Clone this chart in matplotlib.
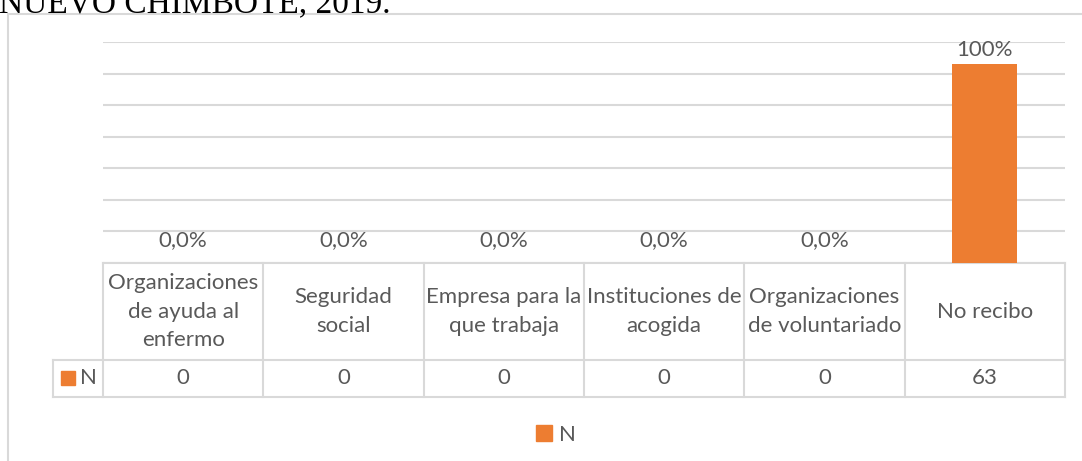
import matplotlib.pyplot as plt
from matplotlib.patches import Rectangle

# datos
categorias = ['Organizaciones\nde ayuda al\nenfermo', 'Seguridad\nsocial',
              'Empresa para la\nque trabaja', 'Instituciones de\nacogida',
              'Organizaciones\nde voluntariado', 'No recibo']
valores_n = [0, 0, 0, 0, 0, 63]
etiquetas = ['0,0%', '0,0%', '0,0%', '0,0%', '0,0%', '100%']

naranja = '#ED7D31'
gris_txt = '#595959'
gris_lin = '#D9D9D9'
fuente = 'Lato'
tam = 16

W, H = 1082, 461
fig = plt.figure(figsize=(W / 100, H / 100), dpi=100)

# marco del grafico
fig.patches.append(Rectangle((8 / W, -0.1), 1.2, 1 - 14 / H + 0.1, transform=fig.transFigure,
                             fill=False, edgecolor=gris_lin, linewidth=1.5))

# titulo cortado arriba (como en la imagen original)
fig.text(-0.001, 1 - 12 / H, 'NUEVO CHIMBOTE, 2019.', family='Liberation Serif',
         fontsize=24, va='baseline', ha='left', color='black')

x0, x1 = 103, 1065
y_top, y_base = 42, 263
ax = fig.add_axes([x0 / W, 1 - y_base / H, (x1 - x0) / W, (y_base - y_top) / H])
pos = list(range(len(categorias)))
ax.bar(pos, valores_n, width=0.405, color=naranja, zorder=3)
ax.set_xlim(-0.5, len(categorias) - 0.5)
ax.set_ylim(0, 70)
ax.set_yticks(range(0, 71, 10))
ax.yaxis.grid(True, color=gris_lin, linewidth=1.5, zorder=0)
ax.tick_params(left=False, bottom=False, labelleft=False, labelbottom=False)
for s in ax.spines.values():
    s.set_visible(False)

for p, v, lab in zip(pos, valores_n, etiquetas):
    off = 3 if v > 0 else 9.5
    ax.annotate(lab, (p, v), xytext=(0, off), textcoords='offset points', ha='center',
                va='bottom', fontsize=tam, color=gris_txt, family=fuente)

# tabla de datos
tr = ax.get_xaxis_transform()
alto = y_base - y_top
r1 = -(360 - y_base) / alto
r2 = -(397 - y_base) / alto
izq = -0.5 - (x0 - 53) / ((x1 - x0) / len(categorias))
n = len(categorias)
kw = dict(transform=tr, color=gris_lin, linewidth=1.5, clip_on=False)
ax.plot([-0.5, n - 0.5], [0, 0], **kw)
ax.plot([izq, n - 0.5], [r1, r1], **kw)
ax.plot([izq, n - 0.5], [r2, r2], **kw)
for k in range(n + 1):
    ax.plot([k - 0.5, k - 0.5], [0, r2], **kw)
ax.plot([izq, izq], [r1, r2], **kw)

for p, c, v in zip(pos, categorias, valores_n):
    ax.text(p, r1 / 2, c, transform=tr, ha='center', va='center', fontsize=tam,
            color=gris_txt, family=fuente, linespacing=1.55, clip_on=False)
    ax.text(p, (r1 + r2) / 2, str(v), transform=tr, ha='center', va='center', fontsize=tam,
            color=gris_txt, family=fuente, clip_on=False)

# etiqueta de la fila
fig.patches.append(Rectangle((61 / W, 1 - 385 / H), 14 / W, 14 / H, transform=fig.transFigure,
                             color=naranja))
fig.text(80 / W, 1 - 378.5 / H, 'N', fontsize=tam, color=gris_txt, family=fuente, va='center')

# leyenda
h = Rectangle((0, 0), 1, 1, color=naranja)
fig.legend([h], ['N'], loc='center', bbox_to_anchor=(556 / W, 1 - 435 / H), frameon=False,
           handlelength=0.7, handleheight=0.7, handletextpad=0.3,
           prop={'family': fuente, 'size': tam}, labelcolor=gris_txt)

fig.savefig('out.png', dpi=100)
